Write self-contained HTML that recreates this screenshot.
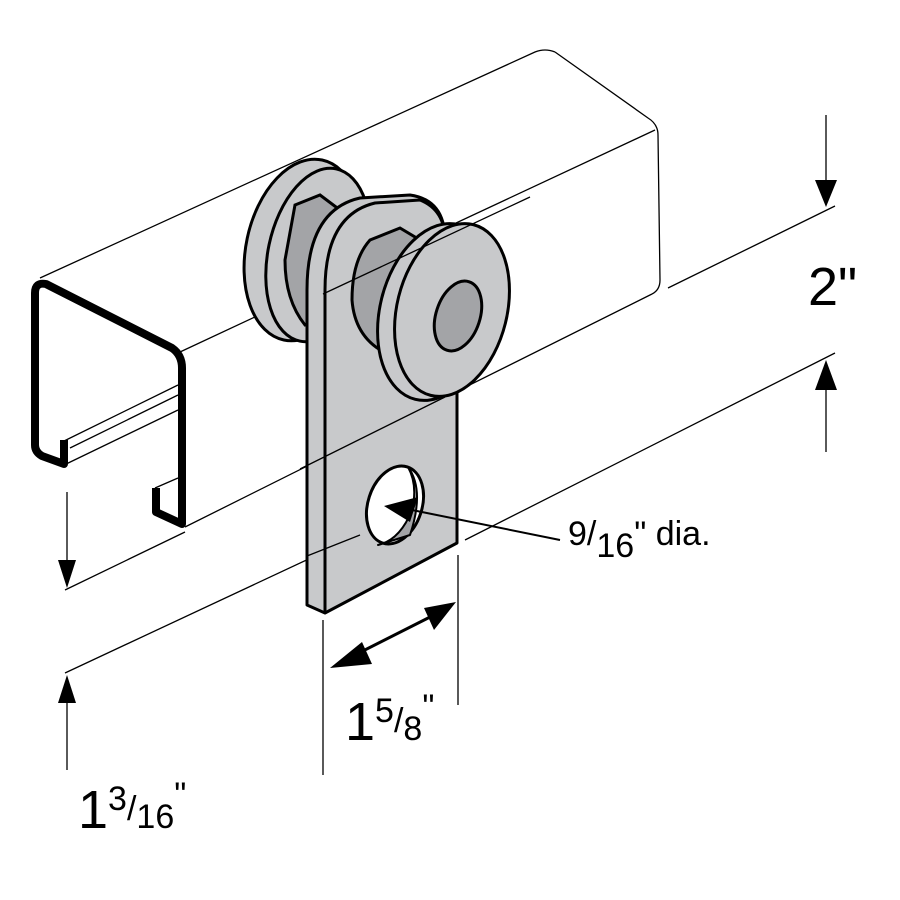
<!DOCTYPE html>
<html><head><style>body{margin:0;background:#fff}svg{display:block}</style></head><body>
<svg width="900" height="900" viewBox="0 0 900 900" xmlns="http://www.w3.org/2000/svg" font-family="Liberation Sans, sans-serif">
<g fill="none" stroke="#000" stroke-width="1.3">
<path d="M40,278 L535,52 Q545,48 555,52"/>
<path d="M555,52 L648,118 Q658,124 658,135 L660,280 Q660,290 652,294"/>
<path d="M180,352 L655,130"/>
<path d="M185,527 L652,294"/>
<path d="M62,442 L178,385"/>
<path d="M70,448 L178,395"/>
<path d="M62,466 L178,410"/>
<path d="M155,488 L178,478"/>
<path d="M65,590 L185,532"/>
<path d="M65,673 L360,535"/>
<path d="M465,540 L835,353"/>
<path d="M668,288 L835,206"/>
<path d="M67,492 V575"/>
<path d="M67,770 V690"/>
<path d="M826,115 V185"/>
<path d="M826,452 V380"/>
<path d="M323,620 V775"/>
<path d="M458,555 V705"/>
</g>
<g fill="#000">
<polygon points="58,560 76,560 67,588"/>
<polygon points="58,703 76,703 67,675"/>
<polygon points="815,180 837,180 826,207"/>
<polygon points="815,390 837,390 826,360"/>
</g>
<path d="M64,440 L64,464 L42,456 Q35,452 35,445 L35,293 Q35,282 46,284 L172,348 Q182,355 182,368 L182,524 L156,512 L156,488" fill="none" stroke="#000" stroke-width="8" stroke-linejoin="round"/>
<g stroke="#000" stroke-width="3" fill="#c8c9cb">
<ellipse cx="303" cy="250" rx="57" ry="92" transform="rotate(12 303 250)"/>
<ellipse cx="318" cy="255" rx="50" ry="88" transform="rotate(12 318 255)"/>
<path d="M295,205 L320,195 L340,210 L340,320 L305,325 Q285,300 285,260 Z" fill="#a3a4a7"/>
</g>
<g stroke="#000" stroke-width="3" stroke-linejoin="round">
<path d="M307,290 Q307,210 360,198 L410,195 Q445,200 445,240 L457,250 L457,543 L325,613 L307,605 Z" fill="#c8c9cb"/>
<path d="M325,290 Q325,215 375,203 L420,200 Q445,210 445,240" fill="none"/>
<path d="M325,290 V613" fill="none"/>
<ellipse cx="395" cy="505" rx="27" ry="40" transform="rotate(18 395 505)" fill="#fff"/>
<path d="M408,467 Q425,490 410,535 L378,545 Q400,540 412,510 Q418,485 408,467 Z" fill="#a3a4a7" stroke-width="2"/>
</g>
<g fill="none" stroke="#000" stroke-width="1.3">
<path d="M300,469 L445,397"/>
<path d="M307,556 L360,535"/>
</g>
<g stroke="#000" stroke-width="3" fill="#c8c9cb">
<path d="M370,240 L400,228 L420,240 L420,360 L390,355 Q355,340 352,300 Q352,260 370,240 Z" fill="#a3a4a7"/>
<ellipse cx="437" cy="312" rx="57" ry="90" transform="rotate(14 437 312)"/>
<ellipse cx="452" cy="310" rx="55" ry="88" transform="rotate(14 452 310)"/>
<ellipse cx="458" cy="316" rx="22" ry="36" transform="rotate(18 458 316)" fill="#a3a4a7"/>
</g>
<g fill="none" stroke="#000" stroke-width="1.3">
<path d="M323,294 L530,197"/>
</g>
<path d="M412,510 L560,540" stroke="#000" stroke-width="2"/>
<polygon points="384,506 418,497 410,522" fill="#000"/>
<path d="M345,660 L440,612" stroke="#000" stroke-width="3"/>
<polygon points="330,668 362,642 372,664" fill="#000"/>
<polygon points="456,602 424,608 434,630" fill="#000"/>
<g fill="#000">
<text x="808" y="305" font-size="54">2"</text>
<text x="568" y="545" font-size="34">9/<tspan dy="12">16</tspan><tspan dy="-12">" dia.</tspan></text>
<text x="345" y="740" font-size="54">1<tspan font-size="34" dy="-18">5</tspan><tspan font-size="34" dy="10">/</tspan><tspan font-size="34" dy="8">8</tspan><tspan font-size="34" dy="-22">"</tspan></text>
<text x="78" y="828" font-size="54">1<tspan font-size="34" dy="-18">3</tspan><tspan font-size="34" dy="10">/</tspan><tspan font-size="34" dy="8">16</tspan><tspan font-size="34" dy="-22">"</tspan></text>
</g>
</svg>
</body></html>
